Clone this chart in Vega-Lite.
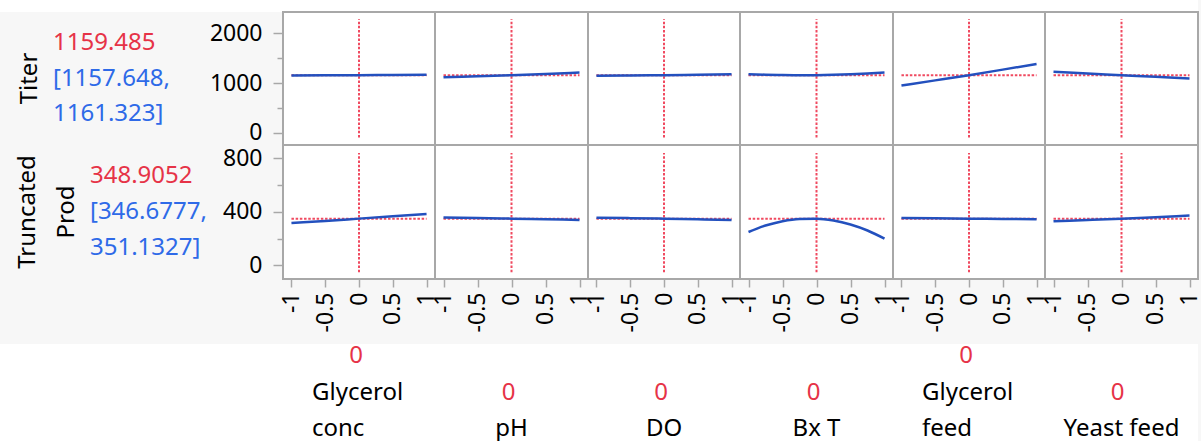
{
"$schema": "https://vega.github.io/schema/vega-lite/v6.json",
"background": "#F7F7F7",
"padding": {"left": 0, "top": 0, "right": 3, "bottom": 0},
"config": {"font": "Noto Sans", "view": {"stroke": null}},
"datasets": {
"refs": [
{"resp": "Titer", "x": -1, "x2": 1, "y": 1159.485, "y2": 1159.485},
{"resp": "Titer", "x": 0, "x2": 0, "y": -95, "y2": 2285},
{"resp": "Prod", "x": -1, "x2": 1, "y": 348.9052, "y2": 348.9052},
{"resp": "Prod", "x": 0, "x2": 0, "y": -52, "y2": 840}
],
"curves": [
{"resp": "Titer", "factor": "Glycerol conc", "x": -1, "y": 1152},
{"resp": "Titer", "factor": "Glycerol conc", "x": -0.5, "y": 1156},
{"resp": "Titer", "factor": "Glycerol conc", "x": 0, "y": 1159.5},
{"resp": "Titer", "factor": "Glycerol conc", "x": 0.5, "y": 1164},
{"resp": "Titer", "factor": "Glycerol conc", "x": 1, "y": 1170},
{"resp": "Titer", "factor": "pH", "x": -1, "y": 1117},
{"resp": "Titer", "factor": "pH", "x": -0.5, "y": 1138},
{"resp": "Titer", "factor": "pH", "x": 0, "y": 1159.5},
{"resp": "Titer", "factor": "pH", "x": 0.5, "y": 1184},
{"resp": "Titer", "factor": "pH", "x": 1, "y": 1212},
{"resp": "Titer", "factor": "DO", "x": -1, "y": 1146},
{"resp": "Titer", "factor": "DO", "x": -0.5, "y": 1152},
{"resp": "Titer", "factor": "DO", "x": 0, "y": 1159.5},
{"resp": "Titer", "factor": "DO", "x": 0.5, "y": 1169},
{"resp": "Titer", "factor": "DO", "x": 1, "y": 1180},
{"resp": "Titer", "factor": "Bx T", "x": -1, "y": 1180},
{"resp": "Titer", "factor": "Bx T", "x": -0.75, "y": 1168},
{"resp": "Titer", "factor": "Bx T", "x": -0.5, "y": 1161},
{"resp": "Titer", "factor": "Bx T", "x": -0.25, "y": 1158},
{"resp": "Titer", "factor": "Bx T", "x": 0, "y": 1159.5},
{"resp": "Titer", "factor": "Bx T", "x": 0.25, "y": 1166},
{"resp": "Titer", "factor": "Bx T", "x": 0.5, "y": 1177},
{"resp": "Titer", "factor": "Bx T", "x": 0.75, "y": 1192},
{"resp": "Titer", "factor": "Bx T", "x": 1, "y": 1212},
{"resp": "Titer", "factor": "Glycerol feed", "x": -1, "y": 952},
{"resp": "Titer", "factor": "Glycerol feed", "x": -0.5, "y": 1055},
{"resp": "Titer", "factor": "Glycerol feed", "x": 0, "y": 1159.5},
{"resp": "Titer", "factor": "Glycerol feed", "x": 0.5, "y": 1271},
{"resp": "Titer", "factor": "Glycerol feed", "x": 1, "y": 1385},
{"resp": "Titer", "factor": "Yeast feed", "x": -1, "y": 1226},
{"resp": "Titer", "factor": "Yeast feed", "x": -0.5, "y": 1193},
{"resp": "Titer", "factor": "Yeast feed", "x": 0, "y": 1159.5},
{"resp": "Titer", "factor": "Yeast feed", "x": 0.5, "y": 1126},
{"resp": "Titer", "factor": "Yeast feed", "x": 1, "y": 1093},
{"resp": "Prod", "factor": "Glycerol conc", "x": -1, "y": 316},
{"resp": "Prod", "factor": "Glycerol conc", "x": -0.5, "y": 332},
{"resp": "Prod", "factor": "Glycerol conc", "x": 0, "y": 348.9},
{"resp": "Prod", "factor": "Glycerol conc", "x": 0.5, "y": 366},
{"resp": "Prod", "factor": "Glycerol conc", "x": 1, "y": 384},
{"resp": "Prod", "factor": "pH", "x": -1, "y": 356.5},
{"resp": "Prod", "factor": "pH", "x": -0.5, "y": 352.7},
{"resp": "Prod", "factor": "pH", "x": 0, "y": 348.9},
{"resp": "Prod", "factor": "pH", "x": 0.5, "y": 344},
{"resp": "Prod", "factor": "pH", "x": 1, "y": 339},
{"resp": "Prod", "factor": "DO", "x": -1, "y": 356},
{"resp": "Prod", "factor": "DO", "x": -0.5, "y": 352.5},
{"resp": "Prod", "factor": "DO", "x": 0, "y": 348.9},
{"resp": "Prod", "factor": "DO", "x": 0.5, "y": 344},
{"resp": "Prod", "factor": "DO", "x": 1, "y": 339.5},
{"resp": "Prod", "factor": "Bx T", "x": -1, "y": 249},
{"resp": "Prod", "factor": "Bx T", "x": -0.75, "y": 297},
{"resp": "Prod", "factor": "Bx T", "x": -0.5, "y": 330},
{"resp": "Prod", "factor": "Bx T", "x": -0.25, "y": 347},
{"resp": "Prod", "factor": "Bx T", "x": 0, "y": 348.9},
{"resp": "Prod", "factor": "Bx T", "x": 0.25, "y": 335},
{"resp": "Prod", "factor": "Bx T", "x": 0.5, "y": 305},
{"resp": "Prod", "factor": "Bx T", "x": 0.75, "y": 260},
{"resp": "Prod", "factor": "Bx T", "x": 1, "y": 199},
{"resp": "Prod", "factor": "Glycerol feed", "x": -1, "y": 354},
{"resp": "Prod", "factor": "Glycerol feed", "x": -0.5, "y": 351.4},
{"resp": "Prod", "factor": "Glycerol feed", "x": 0, "y": 348.9},
{"resp": "Prod", "factor": "Glycerol feed", "x": 0.5, "y": 346.4},
{"resp": "Prod", "factor": "Glycerol feed", "x": 1, "y": 344},
{"resp": "Prod", "factor": "Yeast feed", "x": -1, "y": 329},
{"resp": "Prod", "factor": "Yeast feed", "x": -0.5, "y": 339},
{"resp": "Prod", "factor": "Yeast feed", "x": 0, "y": 348.9},
{"resp": "Prod", "factor": "Yeast feed", "x": 0.5, "y": 360},
{"resp": "Prod", "factor": "Yeast feed", "x": 1, "y": 371.5}
],
"titles": [
{"resp": "Titer", "title": "Titer"},
{"resp": "Prod", "title": "Truncated\nProd"}
],
"readouts": [
{"resp": "Titer", "line": 1, "text": "1159.485", "kind": "pred"},
{"resp": "Titer", "line": 2, "text": "[1157.648,", "kind": "ci"},
{"resp": "Titer", "line": 3, "text": "1161.323]", "kind": "ci"},
{"resp": "Prod", "line": 1, "text": "348.9052", "kind": "pred"},
{"resp": "Prod", "line": 2, "text": "[346.6777,", "kind": "ci"},
{"resp": "Prod", "line": 3, "text": "351.1327]", "kind": "ci"}
],
"factors": [
{"factor": "Glycerol conc", "line": 1, "text": "0", "kind": "setting"},
{"factor": "Glycerol conc", "line": 2, "text": "Glycerol", "kind": "name"},
{"factor": "Glycerol conc", "line": 3, "text": "conc", "kind": "name"},
{"factor": "pH", "line": 2, "text": "0", "kind": "setting"},
{"factor": "pH", "line": 3, "text": "pH", "kind": "name"},
{"factor": "DO", "line": 2, "text": "0", "kind": "setting"},
{"factor": "DO", "line": 3, "text": "DO", "kind": "name"},
{"factor": "Bx T", "line": 2, "text": "0", "kind": "setting"},
{"factor": "Bx T", "line": 3, "text": "Bx T", "kind": "name"},
{"factor": "Glycerol feed", "line": 1, "text": "0", "kind": "setting"},
{"factor": "Glycerol feed", "line": 2, "text": "Glycerol", "kind": "name"},
{"factor": "Glycerol feed", "line": 3, "text": "feed", "kind": "name"},
{"factor": "Yeast feed", "line": 2, "text": "0", "kind": "setting"},
{"factor": "Yeast feed", "line": 3, "text": "Yeast feed", "kind": "name"}
],
"blank": [{"v": ""}]
},
"columns": 7,
"spacing": 0,
"bounds": "flush",
"align": "each",
"concat": [
{"width": 283, "height": 12, "view": {"stroke": null, "fill": "white"}, "data": {"name": "blank"}, "mark": "text", "encoding": {"text": {"field": "v"}}},
{"width": 152, "height": 12, "view": {"stroke": null, "fill": "white"}, "data": {"name": "blank"}, "mark": "text", "encoding": {"text": {"field": "v"}}},
{"width": 153, "height": 12, "view": {"stroke": null, "fill": "white"}, "data": {"name": "blank"}, "mark": "text", "encoding": {"text": {"field": "v"}}},
{"width": 152, "height": 12, "view": {"stroke": null, "fill": "white"}, "data": {"name": "blank"}, "mark": "text", "encoding": {"text": {"field": "v"}}},
{"width": 153, "height": 12, "view": {"stroke": null, "fill": "white"}, "data": {"name": "blank"}, "mark": "text", "encoding": {"text": {"field": "v"}}},
{"width": 152, "height": 12, "view": {"stroke": null, "fill": "white"}, "data": {"name": "blank"}, "mark": "text", "encoding": {"text": {"field": "v"}}},
{"width": 153, "height": 12, "view": {"stroke": null, "fill": "white"}, "data": {"name": "blank"}, "mark": "text", "encoding": {"text": {"field": "v"}}},

{"width": 283, "height": 133, "view": {"stroke": null},
 "layer": [
  {"data": {"name": "titles"}, "transform": [{"filter": "datum.resp == 'Titer'"}], "mark": {"type": "text", "angle": 270, "fontSize": 24, "align": "center", "baseline": "middle", "lineBreak": "\n", "lineHeight": 39, "dy": -111.5, "color": "#000000"}, "encoding": {"text": {"field": "title"}}},
  {"data": {"name": "readouts"}, "transform": [{"filter": "datum.resp == 'Titer'"}], "mark": {"type": "text", "fontSize": 24, "align": "left", "baseline": "middle", "dx": -88.5}, "encoding": {"y": {"field": "line", "type": "ordinal", "scale": {"type": "point", "domain": [1, 2, 3], "padding": 0.873}, "axis": null}, "text": {"field": "text"}, "color": {"condition": {"test": "datum.kind == 'pred'", "value": "#E63347"}, "value": "#2E6AE8"}}}
 ]},
{"width": 152, "height": 133, "view": {"stroke": "#A8A8A8", "strokeWidth": 2, "fill": "white"},
 "encoding": {"x": {"field": "x", "type": "quantitative", "scale": {"domain": [-1.125, 1.125], "nice": false, "zero": false}, "axis": null},
  "y": {"field": "y", "type": "quantitative", "scale": {"domain": [-245, 2430], "nice": false, "zero": false}, "axis": {"values": [0, 500, 1000, 1500, 2000], "format": "d", "labelExpr": "datum.value % 1000 == 0 ? datum.label : ''", "tickSize": {"condition": {"test": "datum.value % 1000 != 0", "value": 6}, "value": 10}, "labelPadding": 11, "domain": false, "grid": false, "title": null, "tickColor": "#A8A8A8", "tickWidth": 1.5, "labelFontSize": 23, "labelColor": "#000000", "labelFlush": false, "labelOverlap": false}}},
 "layer": [
  {"data": {"name": "refs"}, "transform": [{"filter": "datum.resp == 'Titer'"}], "mark": {"type": "rule", "color": "#F04A60", "strokeDash": [2.5, 1.7], "strokeWidth": 2}, "encoding": {"x2": {"field": "x2"}, "y2": {"field": "y2"}}},
  {"data": {"name": "curves"}, "transform": [{"filter": "datum.resp == 'Titer' && datum.factor == 'Glycerol conc'"}], "mark": {"type": "line", "color": "#2350BE", "strokeWidth": 2.5, "interpolate": "monotone"}, "encoding": {}}
 ]},
{"width": 153, "height": 133, "view": {"stroke": "#A8A8A8", "strokeWidth": 2, "fill": "white"},
 "encoding": {"x": {"field": "x", "type": "quantitative", "scale": {"domain": [-1.125, 1.125], "nice": false, "zero": false}, "axis": null},
  "y": {"field": "y", "type": "quantitative", "scale": {"domain": [-245, 2430], "nice": false, "zero": false}, "axis": null}},
 "layer": [
  {"data": {"name": "refs"}, "transform": [{"filter": "datum.resp == 'Titer'"}], "mark": {"type": "rule", "color": "#F04A60", "strokeDash": [2.5, 1.7], "strokeWidth": 2}, "encoding": {"x2": {"field": "x2"}, "y2": {"field": "y2"}}},
  {"data": {"name": "curves"}, "transform": [{"filter": "datum.resp == 'Titer' && datum.factor == 'pH'"}], "mark": {"type": "line", "color": "#2350BE", "strokeWidth": 2.5, "interpolate": "monotone"}, "encoding": {}}
 ]},
{"width": 152, "height": 133, "view": {"stroke": "#A8A8A8", "strokeWidth": 2, "fill": "white"},
 "encoding": {"x": {"field": "x", "type": "quantitative", "scale": {"domain": [-1.125, 1.125], "nice": false, "zero": false}, "axis": null},
  "y": {"field": "y", "type": "quantitative", "scale": {"domain": [-245, 2430], "nice": false, "zero": false}, "axis": null}},
 "layer": [
  {"data": {"name": "refs"}, "transform": [{"filter": "datum.resp == 'Titer'"}], "mark": {"type": "rule", "color": "#F04A60", "strokeDash": [2.5, 1.7], "strokeWidth": 2}, "encoding": {"x2": {"field": "x2"}, "y2": {"field": "y2"}}},
  {"data": {"name": "curves"}, "transform": [{"filter": "datum.resp == 'Titer' && datum.factor == 'DO'"}], "mark": {"type": "line", "color": "#2350BE", "strokeWidth": 2.5, "interpolate": "monotone"}, "encoding": {}}
 ]},
{"width": 153, "height": 133, "view": {"stroke": "#A8A8A8", "strokeWidth": 2, "fill": "white"},
 "encoding": {"x": {"field": "x", "type": "quantitative", "scale": {"domain": [-1.125, 1.125], "nice": false, "zero": false}, "axis": null},
  "y": {"field": "y", "type": "quantitative", "scale": {"domain": [-245, 2430], "nice": false, "zero": false}, "axis": null}},
 "layer": [
  {"data": {"name": "refs"}, "transform": [{"filter": "datum.resp == 'Titer'"}], "mark": {"type": "rule", "color": "#F04A60", "strokeDash": [2.5, 1.7], "strokeWidth": 2}, "encoding": {"x2": {"field": "x2"}, "y2": {"field": "y2"}}},
  {"data": {"name": "curves"}, "transform": [{"filter": "datum.resp == 'Titer' && datum.factor == 'Bx T'"}], "mark": {"type": "line", "color": "#2350BE", "strokeWidth": 2.5, "interpolate": "monotone"}, "encoding": {}}
 ]},
{"width": 152, "height": 133, "view": {"stroke": "#A8A8A8", "strokeWidth": 2, "fill": "white"},
 "encoding": {"x": {"field": "x", "type": "quantitative", "scale": {"domain": [-1.125, 1.125], "nice": false, "zero": false}, "axis": null},
  "y": {"field": "y", "type": "quantitative", "scale": {"domain": [-245, 2430], "nice": false, "zero": false}, "axis": null}},
 "layer": [
  {"data": {"name": "refs"}, "transform": [{"filter": "datum.resp == 'Titer'"}], "mark": {"type": "rule", "color": "#F04A60", "strokeDash": [2.5, 1.7], "strokeWidth": 2}, "encoding": {"x2": {"field": "x2"}, "y2": {"field": "y2"}}},
  {"data": {"name": "curves"}, "transform": [{"filter": "datum.resp == 'Titer' && datum.factor == 'Glycerol feed'"}], "mark": {"type": "line", "color": "#2350BE", "strokeWidth": 2.5, "interpolate": "monotone"}, "encoding": {}}
 ]},
{"width": 153, "height": 133, "view": {"stroke": "#A8A8A8", "strokeWidth": 2, "fill": "white"},
 "encoding": {"x": {"field": "x", "type": "quantitative", "scale": {"domain": [-1.125, 1.125], "nice": false, "zero": false}, "axis": null},
  "y": {"field": "y", "type": "quantitative", "scale": {"domain": [-245, 2430], "nice": false, "zero": false}, "axis": null}},
 "layer": [
  {"data": {"name": "refs"}, "transform": [{"filter": "datum.resp == 'Titer'"}], "mark": {"type": "rule", "color": "#F04A60", "strokeDash": [2.5, 1.7], "strokeWidth": 2}, "encoding": {"x2": {"field": "x2"}, "y2": {"field": "y2"}}},
  {"data": {"name": "curves"}, "transform": [{"filter": "datum.resp == 'Titer' && datum.factor == 'Yeast feed'"}], "mark": {"type": "line", "color": "#2350BE", "strokeWidth": 2.5, "interpolate": "monotone"}, "encoding": {}}
 ]},

{"width": 283, "height": 134, "view": {"stroke": null},
 "layer": [
  {"data": {"name": "titles"}, "transform": [{"filter": "datum.resp == 'Prod'"}], "mark": {"type": "text", "angle": 270, "fontSize": 24, "align": "center", "baseline": "middle", "lineBreak": "\n", "lineHeight": 39, "dy": -113.5, "color": "#000000"}, "encoding": {"text": {"field": "title"}}},
  {"data": {"name": "readouts"}, "transform": [{"filter": "datum.resp == 'Prod'"}], "mark": {"type": "text", "fontSize": 24, "align": "left", "baseline": "middle", "dx": -51.5}, "encoding": {"y": {"field": "line", "type": "ordinal", "scale": {"type": "point", "domain": [1, 2, 3], "padding": 0.873}, "axis": null}, "text": {"field": "text"}, "color": {"condition": {"test": "datum.kind == 'pred'", "value": "#E63347"}, "value": "#2E6AE8"}}}
 ]},
{"width": 152, "height": 134, "view": {"stroke": "#A8A8A8", "strokeWidth": 2, "fill": "white"},
 "encoding": {"x": {"field": "x", "type": "quantitative", "scale": {"domain": [-1.125, 1.125], "nice": false, "zero": false}, "axis": {"values": [-1, -0.5, 0, 0.5, 1], "labelExpr": "'' + datum.value", "labelAngle": 270, "labelAlign": "right", "labelBaseline": "middle", "tickSize": 8, "labelPadding": 5, "domain": false, "grid": false, "title": null, "tickColor": "#A8A8A8", "tickWidth": 1.5, "labelFontSize": 23, "labelColor": "#000000", "labelFlush": false, "labelOverlap": false}},
  "y": {"field": "y", "type": "quantitative", "scale": {"domain": [-103, 900], "nice": false, "zero": false}, "axis": {"values": [0, 200, 400, 600, 800], "format": "d", "labelExpr": "datum.value % 400 == 0 ? datum.label : ''", "tickSize": {"condition": {"test": "datum.value % 400 != 0", "value": 6}, "value": 10}, "labelPadding": 11, "domain": false, "grid": false, "title": null, "tickColor": "#A8A8A8", "tickWidth": 1.5, "labelFontSize": 23, "labelColor": "#000000", "labelFlush": false, "labelOverlap": false}}},
 "layer": [
  {"data": {"name": "refs"}, "transform": [{"filter": "datum.resp == 'Prod'"}], "mark": {"type": "rule", "color": "#F04A60", "strokeDash": [2.5, 1.7], "strokeWidth": 2}, "encoding": {"x2": {"field": "x2"}, "y2": {"field": "y2"}}},
  {"data": {"name": "curves"}, "transform": [{"filter": "datum.resp == 'Prod' && datum.factor == 'Glycerol conc'"}], "mark": {"type": "line", "color": "#2350BE", "strokeWidth": 2.5, "interpolate": "monotone"}, "encoding": {}}
 ]},
{"width": 153, "height": 134, "view": {"stroke": "#A8A8A8", "strokeWidth": 2, "fill": "white"},
 "encoding": {"x": {"field": "x", "type": "quantitative", "scale": {"domain": [-1.125, 1.125], "nice": false, "zero": false}, "axis": {"values": [-1, -0.5, 0, 0.5, 1], "labelExpr": "'' + datum.value", "labelAngle": 270, "labelAlign": "right", "labelBaseline": "middle", "tickSize": 8, "labelPadding": 5, "domain": false, "grid": false, "title": null, "tickColor": "#A8A8A8", "tickWidth": 1.5, "labelFontSize": 23, "labelColor": "#000000", "labelFlush": false, "labelOverlap": false}},
  "y": {"field": "y", "type": "quantitative", "scale": {"domain": [-103, 900], "nice": false, "zero": false}, "axis": null}},
 "layer": [
  {"data": {"name": "refs"}, "transform": [{"filter": "datum.resp == 'Prod'"}], "mark": {"type": "rule", "color": "#F04A60", "strokeDash": [2.5, 1.7], "strokeWidth": 2}, "encoding": {"x2": {"field": "x2"}, "y2": {"field": "y2"}}},
  {"data": {"name": "curves"}, "transform": [{"filter": "datum.resp == 'Prod' && datum.factor == 'pH'"}], "mark": {"type": "line", "color": "#2350BE", "strokeWidth": 2.5, "interpolate": "monotone"}, "encoding": {}}
 ]},
{"width": 152, "height": 134, "view": {"stroke": "#A8A8A8", "strokeWidth": 2, "fill": "white"},
 "encoding": {"x": {"field": "x", "type": "quantitative", "scale": {"domain": [-1.125, 1.125], "nice": false, "zero": false}, "axis": {"values": [-1, -0.5, 0, 0.5, 1], "labelExpr": "'' + datum.value", "labelAngle": 270, "labelAlign": "right", "labelBaseline": "middle", "tickSize": 8, "labelPadding": 5, "domain": false, "grid": false, "title": null, "tickColor": "#A8A8A8", "tickWidth": 1.5, "labelFontSize": 23, "labelColor": "#000000", "labelFlush": false, "labelOverlap": false}},
  "y": {"field": "y", "type": "quantitative", "scale": {"domain": [-103, 900], "nice": false, "zero": false}, "axis": null}},
 "layer": [
  {"data": {"name": "refs"}, "transform": [{"filter": "datum.resp == 'Prod'"}], "mark": {"type": "rule", "color": "#F04A60", "strokeDash": [2.5, 1.7], "strokeWidth": 2}, "encoding": {"x2": {"field": "x2"}, "y2": {"field": "y2"}}},
  {"data": {"name": "curves"}, "transform": [{"filter": "datum.resp == 'Prod' && datum.factor == 'DO'"}], "mark": {"type": "line", "color": "#2350BE", "strokeWidth": 2.5, "interpolate": "monotone"}, "encoding": {}}
 ]},
{"width": 153, "height": 134, "view": {"stroke": "#A8A8A8", "strokeWidth": 2, "fill": "white"},
 "encoding": {"x": {"field": "x", "type": "quantitative", "scale": {"domain": [-1.125, 1.125], "nice": false, "zero": false}, "axis": {"values": [-1, -0.5, 0, 0.5, 1], "labelExpr": "'' + datum.value", "labelAngle": 270, "labelAlign": "right", "labelBaseline": "middle", "tickSize": 8, "labelPadding": 5, "domain": false, "grid": false, "title": null, "tickColor": "#A8A8A8", "tickWidth": 1.5, "labelFontSize": 23, "labelColor": "#000000", "labelFlush": false, "labelOverlap": false}},
  "y": {"field": "y", "type": "quantitative", "scale": {"domain": [-103, 900], "nice": false, "zero": false}, "axis": null}},
 "layer": [
  {"data": {"name": "refs"}, "transform": [{"filter": "datum.resp == 'Prod'"}], "mark": {"type": "rule", "color": "#F04A60", "strokeDash": [2.5, 1.7], "strokeWidth": 2}, "encoding": {"x2": {"field": "x2"}, "y2": {"field": "y2"}}},
  {"data": {"name": "curves"}, "transform": [{"filter": "datum.resp == 'Prod' && datum.factor == 'Bx T'"}], "mark": {"type": "line", "color": "#2350BE", "strokeWidth": 2.5, "interpolate": "monotone"}, "encoding": {}}
 ]},
{"width": 152, "height": 134, "view": {"stroke": "#A8A8A8", "strokeWidth": 2, "fill": "white"},
 "encoding": {"x": {"field": "x", "type": "quantitative", "scale": {"domain": [-1.125, 1.125], "nice": false, "zero": false}, "axis": {"values": [-1, -0.5, 0, 0.5, 1], "labelExpr": "'' + datum.value", "labelAngle": 270, "labelAlign": "right", "labelBaseline": "middle", "tickSize": 8, "labelPadding": 5, "domain": false, "grid": false, "title": null, "tickColor": "#A8A8A8", "tickWidth": 1.5, "labelFontSize": 23, "labelColor": "#000000", "labelFlush": false, "labelOverlap": false}},
  "y": {"field": "y", "type": "quantitative", "scale": {"domain": [-103, 900], "nice": false, "zero": false}, "axis": null}},
 "layer": [
  {"data": {"name": "refs"}, "transform": [{"filter": "datum.resp == 'Prod'"}], "mark": {"type": "rule", "color": "#F04A60", "strokeDash": [2.5, 1.7], "strokeWidth": 2}, "encoding": {"x2": {"field": "x2"}, "y2": {"field": "y2"}}},
  {"data": {"name": "curves"}, "transform": [{"filter": "datum.resp == 'Prod' && datum.factor == 'Glycerol feed'"}], "mark": {"type": "line", "color": "#2350BE", "strokeWidth": 2.5, "interpolate": "monotone"}, "encoding": {}}
 ]},
{"width": 153, "height": 134, "view": {"stroke": "#A8A8A8", "strokeWidth": 2, "fill": "white"},
 "encoding": {"x": {"field": "x", "type": "quantitative", "scale": {"domain": [-1.125, 1.125], "nice": false, "zero": false}, "axis": {"values": [-1, -0.5, 0, 0.5, 1], "labelExpr": "'' + datum.value", "labelAngle": 270, "labelAlign": "right", "labelBaseline": "middle", "tickSize": 8, "labelPadding": 5, "domain": false, "grid": false, "title": null, "tickColor": "#A8A8A8", "tickWidth": 1.5, "labelFontSize": 23, "labelColor": "#000000", "labelFlush": false, "labelOverlap": false}},
  "y": {"field": "y", "type": "quantitative", "scale": {"domain": [-103, 900], "nice": false, "zero": false}, "axis": null}},
 "layer": [
  {"data": {"name": "refs"}, "transform": [{"filter": "datum.resp == 'Prod'"}], "mark": {"type": "rule", "color": "#F04A60", "strokeDash": [2.5, 1.7], "strokeWidth": 2}, "encoding": {"x2": {"field": "x2"}, "y2": {"field": "y2"}}},
  {"data": {"name": "curves"}, "transform": [{"filter": "datum.resp == 'Prod' && datum.factor == 'Yeast feed'"}], "mark": {"type": "line", "color": "#2350BE", "strokeWidth": 2.5, "interpolate": "monotone"}, "encoding": {}}
 ]},

{"width": 283, "height": 65, "view": {"stroke": null}, "data": {"name": "blank"}, "mark": "text", "encoding": {"text": {"field": "v"}}},
{"width": 152, "height": 65, "view": {"stroke": null}, "data": {"name": "blank"}, "mark": "text", "encoding": {"text": {"field": "v"}}},
{"width": 153, "height": 65, "view": {"stroke": null}, "data": {"name": "blank"}, "mark": "text", "encoding": {"text": {"field": "v"}}},
{"width": 152, "height": 65, "view": {"stroke": null}, "data": {"name": "blank"}, "mark": "text", "encoding": {"text": {"field": "v"}}},
{"width": 153, "height": 65, "view": {"stroke": null}, "data": {"name": "blank"}, "mark": "text", "encoding": {"text": {"field": "v"}}},
{"width": 152, "height": 65, "view": {"stroke": null}, "data": {"name": "blank"}, "mark": "text", "encoding": {"text": {"field": "v"}}},
{"width": 153, "height": 65, "view": {"stroke": null}, "data": {"name": "blank"}, "mark": "text", "encoding": {"text": {"field": "v"}}},

{"width": 283, "height": 97, "view": {"stroke": null, "fill": "white"}, "data": {"name": "blank"}, "mark": "text", "encoding": {"text": {"field": "v"}}},
{"width": 152, "height": 97, "view": {"stroke": null, "fill": "white"},
 "encoding": {"y": {"field": "line", "type": "ordinal", "scale": {"type": "point", "domain": [1, 2, 3], "padding": 0.329}, "axis": null}, "text": {"field": "text"}},
 "layer": [
  {"data": {"name": "factors"}, "transform": [{"filter": "datum.factor == 'Glycerol conc' && datum.kind == 'setting'"}], "mark": {"type": "text", "fontSize": 24, "align": "center", "baseline": "middle", "dx": -3, "color": "#E63347"}},
  {"data": {"name": "factors"}, "transform": [{"filter": "datum.factor == 'Glycerol conc' && datum.kind == 'name'"}], "mark": {"type": "text", "fontSize": 24, "align": "left", "baseline": "middle", "dx": -47, "color": "#000000"}}
 ]},
{"width": 153, "height": 97, "view": {"stroke": null, "fill": "white"},
 "encoding": {"y": {"field": "line", "type": "ordinal", "scale": {"type": "point", "domain": [1, 2, 3], "padding": 0.329}, "axis": null}, "text": {"field": "text"}},
 "layer": [
  {"data": {"name": "factors"}, "transform": [{"filter": "datum.factor == 'pH' && datum.kind == 'setting'"}], "mark": {"type": "text", "fontSize": 24, "align": "center", "baseline": "middle", "dx": -3, "color": "#E63347"}},
  {"data": {"name": "factors"}, "transform": [{"filter": "datum.factor == 'pH' && datum.kind == 'name'"}], "mark": {"type": "text", "fontSize": 24, "align": "center", "baseline": "middle", "color": "#000000"}}
 ]},
{"width": 152, "height": 97, "view": {"stroke": null, "fill": "white"},
 "encoding": {"y": {"field": "line", "type": "ordinal", "scale": {"type": "point", "domain": [1, 2, 3], "padding": 0.329}, "axis": null}, "text": {"field": "text"}},
 "layer": [
  {"data": {"name": "factors"}, "transform": [{"filter": "datum.factor == 'DO' && datum.kind == 'setting'"}], "mark": {"type": "text", "fontSize": 24, "align": "center", "baseline": "middle", "dx": -3, "color": "#E63347"}},
  {"data": {"name": "factors"}, "transform": [{"filter": "datum.factor == 'DO' && datum.kind == 'name'"}], "mark": {"type": "text", "fontSize": 24, "align": "center", "baseline": "middle", "color": "#000000"}}
 ]},
{"width": 153, "height": 97, "view": {"stroke": null, "fill": "white"},
 "encoding": {"y": {"field": "line", "type": "ordinal", "scale": {"type": "point", "domain": [1, 2, 3], "padding": 0.329}, "axis": null}, "text": {"field": "text"}},
 "layer": [
  {"data": {"name": "factors"}, "transform": [{"filter": "datum.factor == 'Bx T' && datum.kind == 'setting'"}], "mark": {"type": "text", "fontSize": 24, "align": "center", "baseline": "middle", "dx": -3, "color": "#E63347"}},
  {"data": {"name": "factors"}, "transform": [{"filter": "datum.factor == 'Bx T' && datum.kind == 'name'"}], "mark": {"type": "text", "fontSize": 24, "align": "center", "baseline": "middle", "color": "#000000"}}
 ]},
{"width": 152, "height": 97, "view": {"stroke": null, "fill": "white"},
 "encoding": {"y": {"field": "line", "type": "ordinal", "scale": {"type": "point", "domain": [1, 2, 3], "padding": 0.329}, "axis": null}, "text": {"field": "text"}},
 "layer": [
  {"data": {"name": "factors"}, "transform": [{"filter": "datum.factor == 'Glycerol feed' && datum.kind == 'setting'"}], "mark": {"type": "text", "fontSize": 24, "align": "center", "baseline": "middle", "dx": -3, "color": "#E63347"}},
  {"data": {"name": "factors"}, "transform": [{"filter": "datum.factor == 'Glycerol feed' && datum.kind == 'name'"}], "mark": {"type": "text", "fontSize": 24, "align": "left", "baseline": "middle", "dx": -47, "color": "#000000"}}
 ]},
{"width": 153, "height": 97, "view": {"stroke": null, "fill": "white"},
 "encoding": {"y": {"field": "line", "type": "ordinal", "scale": {"type": "point", "domain": [1, 2, 3], "padding": 0.329}, "axis": null}, "text": {"field": "text"}},
 "layer": [
  {"data": {"name": "factors"}, "transform": [{"filter": "datum.factor == 'Yeast feed' && datum.kind == 'setting'"}], "mark": {"type": "text", "fontSize": 24, "align": "center", "baseline": "middle", "dx": -4, "color": "#E63347"}},
  {"data": {"name": "factors"}, "transform": [{"filter": "datum.factor == 'Yeast feed' && datum.kind == 'name'"}], "mark": {"type": "text", "fontSize": 24, "align": "center", "baseline": "middle", "color": "#000000"}}
 ]}
]
}
